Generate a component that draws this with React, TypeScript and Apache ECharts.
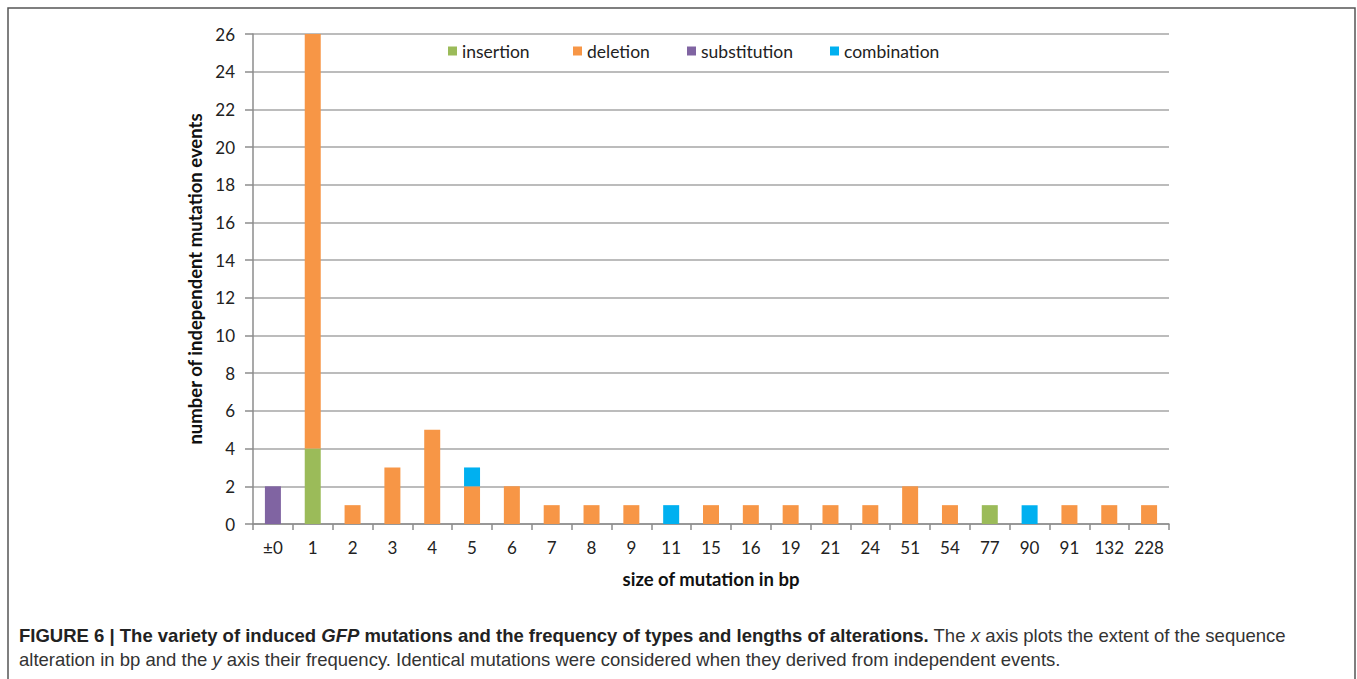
import React, { useEffect, useRef } from "react";
import * as echarts from "echarts";

const categories = ["±0", "1", "2", "3", "4", "5", "6", "7", "8", "9", "11", "15", "16", "19", "21", "24", "51", "54", "77", "90", "91", "132", "228"];
const insertion =    [0, 4, 0, 0, 0, 0, 0, 0, 0, 0, 0, 0, 0, 0, 0, 0, 0, 0, 1, 0, 0, 0, 0];
const deletion =     [0, 22, 1, 3, 5, 2, 2, 1, 1, 1, 0, 1, 1, 1, 1, 1, 2, 1, 0, 0, 1, 1, 1];
const substitution = [2, 0, 0, 0, 0, 0, 0, 0, 0, 0, 0, 0, 0, 0, 0, 0, 0, 0, 0, 0, 0, 0, 0];
const combination =  [0, 0, 0, 0, 0, 1, 0, 0, 0, 0, 1, 0, 0, 0, 0, 0, 0, 0, 0, 1, 0, 0, 0];

const seriesNames = ["insertion", "deletion", "substitution", "combination"];
const seriesColors = ["#9BBB59", "#F79646", "#8064A2", "#00B0F0"];
const seriesData = [insertion, deletion, substitution, combination];
const legendLefts = [448, 573, 687, 830];

const font = "Lato, 'Open Sans', sans-serif";
const capFont = "'Liberation Sans', Arial, sans-serif";
const capSize = 18.5;

export default function App() {
  const ref = useRef<HTMLDivElement>(null);
  useEffect(() => {
    if (!ref.current) return;
    const chart = echarts.init(ref.current, undefined, { renderer: "svg" });
    chart.setOption({
      animation: false,
      backgroundColor: "#ffffff",
      textStyle: { fontFamily: font },
      grid: { left: 253, right: 188, top: 34, bottom: 155 },
      legend: seriesNames.map((n, i) => ({
        data: [n],
        left: legendLefts[i],
        top: 42,
        itemWidth: 9,
        itemHeight: 9,
        itemGap: 4,
        padding: 0,
        icon: "rect",
        textStyle: { fontSize: 17.5, color: "#222", fontFamily: font },
      })),
      xAxis: {
        type: "category",
        data: categories,
        name: "size of mutation in bp",
        nameLocation: "middle",
        nameGap: 45,
        nameTextStyle: { fontSize: 18.5, fontWeight: "bold", color: "#111", fontFamily: font },
        axisLine: { lineStyle: { color: "#8c8c8c", width: 1.5 } },
        axisTick: { show: true, length: 6, lineStyle: { color: "#8c8c8c", width: 1.5 } },
        axisLabel: { fontSize: 17, color: "#222", margin: 15, interval: 0 },
      },
      yAxis: {
        type: "value",
        min: 0,
        max: 26,
        interval: 2,
        name: "number of independent mutation events",
        nameLocation: "middle",
        nameGap: 48,
        nameTextStyle: { fontSize: 18.5, fontWeight: "bold", color: "#111", fontFamily: font },
        axisLine: { show: true, lineStyle: { color: "#8c8c8c", width: 1.5 } },
        axisTick: { show: true, length: 8, lineStyle: { color: "#8c8c8c", width: 1.5 } },
        axisLabel: { fontSize: 17, color: "#222", margin: 18 },
        splitLine: { lineStyle: { color: "#a6a6a6", width: 1.5 } },
      },
      series: seriesNames.map((n, i) => ({
        name: n,
        type: "bar",
        stack: "total",
        barWidth: 16,
        data: seriesData[i],
        itemStyle: { color: seriesColors[i] },
      })),
      graphic: [
        {
          type: "rect",
          shape: { x: 8, y: 8, width: 1347, height: 700 },
          style: { fill: "none", stroke: "#555", lineWidth: 1.5 },
          silent: true,
        },
        {
          type: "text",
          left: 19,
          top: 626,
          style: {
            text: "{b|FIGURE 6 | The variety of induced }{bi|GFP}{b| mutations and the frequency of types and lengths of alterations.}{n| The }{i|x}{n| axis plots the extent of the sequence}",
            rich: {
              b: { fontFamily: capFont, fontSize: capSize, fontWeight: "bold", fill: "#222" },
              bi: { fontFamily: capFont, fontSize: capSize, fontWeight: "bold", fontStyle: "italic", fill: "#222" },
              n: { fontFamily: capFont, fontSize: capSize, fill: "#333" },
              i: { fontFamily: capFont, fontSize: capSize, fontStyle: "italic", fill: "#333" },
            },
          },
        },
        {
          type: "text",
          left: 19,
          top: 650,
          style: {
            text: "{n|alteration in bp and the }{i|y}{n| axis their frequency. Identical mutations were considered when they derived from independent events.}",
            rich: {
              n: { fontFamily: capFont, fontSize: capSize, fill: "#333" },
              i: { fontFamily: capFont, fontSize: capSize, fontStyle: "italic", fill: "#333" },
            },
          },
        },
      ],
    });
    return () => chart.dispose();
  }, []);
  return <div ref={ref} style={{ position: "fixed", left: 0, top: 0, width: 1357, height: 679 }} />;
}
